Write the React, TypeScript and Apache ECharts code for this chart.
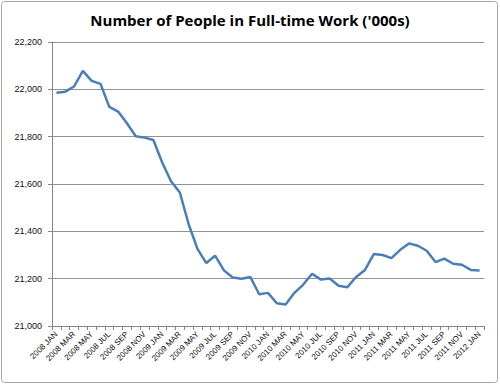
import React, { useEffect, useRef } from "react";
import * as echarts from "echarts";

const months = ["JAN", "FEB", "MAR", "APR", "MAY", "JUN", "JUL", "AUG", "SEP", "OCT", "NOV", "DEC"];
const years = [2008, 2009, 2010, 2011];
const categories: string[] = [];
years.forEach((y) => months.forEach((m) => categories.push(`${y} ${m}`)));
categories.push("2012 JAN");

const values = [
  21986, 21990, 22012, 22078, 22036, 22023, 21926, 21906, 21857, 21802, 21796, 21786,
  21691, 21612, 21564, 21430, 21326, 21266, 21297, 21235, 21205, 21200, 21207, 21134,
  21140, 21096, 21091, 21140, 21175, 21221, 21196, 21201, 21170, 21164, 21207, 21237,
  21304, 21300, 21287, 21322, 21349, 21339, 21318, 21270, 21285, 21263, 21259, 21237,
  21235,
];

const title = "Number of People in Full-time Work ('000s)";
const yMin = 21000;
const yMax = 22200;
const yStep = 200;

export default function App() {
  const ref = useRef<HTMLDivElement>(null);
  useEffect(() => {
    document.body.style.margin = "0";
    const chart = echarts.init(ref.current!, null, { renderer: "svg" });
    chart.setOption({
      animation: false,
      backgroundColor: "#ffffff",
      title: {
        text: title,
        left: "center",
        top: 7,
        textStyle: { fontFamily: "Open Sans", fontWeight: "bold", fontSize: 15, color: "#000" },
      },
      graphic: [
        {
          type: "rect",
          shape: { x: 1.5, y: 1.5, width: 496, height: 381, r: 3 },
          style: { fill: "none", stroke: "#a6a6a6", lineWidth: 1 },
          silent: true,
        },
      ],
      grid: { left: 52, right: 16, top: 42, bottom: 59, containLabel: false },
      xAxis: {
        type: "category",
        data: categories,
        boundaryGap: true,
        axisLine: { lineStyle: { color: "#868686", width: 1 } },
        axisTick: { show: true, interval: 0, length: 4, lineStyle: { color: "#868686" } },
        axisLabel: {
          interval: 1,
          rotate: 45,
          fontSize: 8,
          fontFamily: "Liberation Sans",
          color: "#111",
          margin: 7,
        },
      },
      yAxis: {
        type: "value",
        min: yMin,
        max: yMax,
        interval: yStep,
        axisLine: { show: true, lineStyle: { color: "#868686", width: 1 } },
        axisTick: { show: true, length: 4, lineStyle: { color: "#868686" } },
        splitLine: { lineStyle: { color: "#939393", width: 1 } },
        axisLabel: {
          fontSize: 9,
          fontFamily: "Liberation Sans",
          color: "#111",
          margin: 10,
          formatter: (v: number) => v.toLocaleString("en-US"),
        },
      },
      series: [
        {
          type: "line",
          data: values,
          symbol: "none",
          lineStyle: { color: "#4a7ebb", width: 2.5 },
        },
      ],
    });
    return () => chart.dispose();
  }, []);
  return <div ref={ref} style={{ width: 500, height: 385 }} />;
}
